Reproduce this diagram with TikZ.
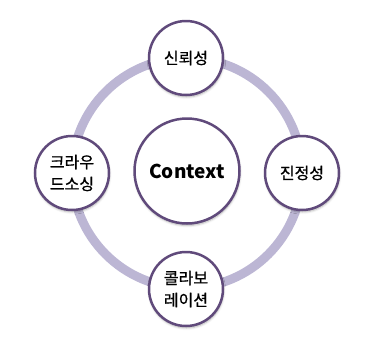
\documentclass[tikz,border=0pt]{standalone}
\usepackage{fontspec}
\setmainfont{Noto Sans CJK KR}
\newfontfamily\krtext[FakeBold=0.9]{Noto Sans CJK KR}
\usetikzlibrary{shadows.blur}
\definecolor{ringlilac}{HTML}{BCB6D4}
\definecolor{rimpurple}{HTML}{604A7B}
\begin{document}
\begin{tikzpicture}[x=1pt,y=-1pt,
    bubble/.style={circle, draw=rimpurple, line width=2.5pt, fill=white,
        align=center, inner sep=0pt, minimum size=74pt,
        font=\krtext\fontsize{16}{22}\selectfont,
        blur shadow={shadow xshift=0.5pt, shadow yshift=-2pt,
            shadow blur steps=5, shadow opacity=30}}]
    \useasboundingbox (0,0) rectangle (380,349);

            \coordinate (hub) at (187,173);
            \draw[ringlilac, line width=9pt] (hub) circle (115pt);

            \node[bubble, minimum size=105pt,
                font=\bfseries\fontsize{19}{22}\selectfont] (context) at (187,171) {Context};
            \node[bubble] (trust) at (186,58) {신뢰성};
            \node[bubble] (truth) at (302,173) {진정성};
            \node[bubble] (crowd) at (72,173) {크라우\\드소싱};
            \node[bubble] (collab) at (186,289) {콜라보\\레이션};
        \end{tikzpicture}
\end{document}
